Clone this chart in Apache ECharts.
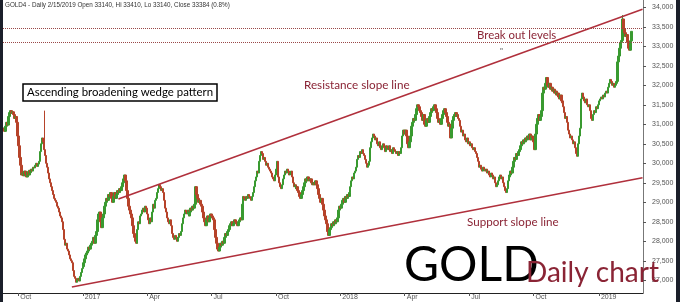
<!DOCTYPE html>
<html><head><meta charset="utf-8">
<script src="https://cdn.jsdelivr.net/npm/echarts@6/dist/echarts.min.js"></script>
<style>html,body{margin:0;padding:0;background:#fff;overflow:hidden}#c{width:680px;height:302px}</style>
</head><body><div id="c"></div>
<script>
// ---- data ----
const END_DATE = '2019-02-15';
const EXTRA_DAYS = 11; // empty future sessions so the trend lines run past the last candle
const closes = [
30900,30820,30950,31050,30980,31200,31300,31350,31280,31320,
31250,31150,31200,31050,30700,30450,30150,29950,29700,
29750,29680,29800,29720,29650,29780,29700,29820,29760,29850,29800,
29900,29880,29950,30000,29920,29980,30050,
30300,30500,30650,30550,
30350,30200,30000,29900,
29750,29600,29500,29400,29300,
29200,29100,29050,
29000,28900,28850,
28750,28650,28600,28500,
28300,28050,27900,
27950,27800,27750,
27650,27550,27500,27450,
27250,27100,
27050,26950,27000,
27050,26980,27100,
27200,27300,27350,
27450,27550,27650,27700,
27750,27850,27800,27900,27950,
28000,28100,27950,28150,28250,
28550,28700,28750,
28500,28350,28600,28700,
28900,29000,29100,29050,29200,29150,29250,
29100,29000,29150,29250,29100,29200,29300,
29250,29350,29300,29400,
29500,29600,29700,29550,
29300,29100,28900,28800,28700,28600,
28400,28200,28100,28000,27950,
28300,28500,28450,28650,28700,
28800,28850,28750,28900,28850,
28700,28550,28450,28600,28500,
28750,28950,28850,29050,29100,
29250,29350,29450,29400,29300,29350,29250,
29050,28850,28750,28600,
28500,28450,28550,28400,
28200,28100,28050,28150,28100,28000,28100,28200,28150,28250,
28450,28600,28700,28800,28750,
28700,28800,28650,28750,28850,28800,28900,28850,28950,
29400,
29200,29100,29000,29050,28950,28900,
28750,28600,28500,28400,28550,28650,28500,
28600,28700,28650,28600,28550,
28300,28100,27950,27800,27750,
27850,27950,27900,28000,27950,
28100,28200,28150,28250,28300,
28400,28450,28500,28400,28450,28550,28500,28450,28400,28500,28550,28600,28550,
28950,29150,29100,
29050,29150,29100,29200,29150,29100,29050,29150,29250,
29400,29550,29650,29800,29750,
30050,30200,30300,30250,30100,30150,
30050,29950,30000,29900,29850,29800,
29750,29650,29600,29550,29700,
29850,30050,
29650,29500,29400,29350,29450,
29600,29700,29800,29750,29850,29800,29700,29750,29800,29650,
29500,29400,29450,29350,29400,29300,29250,
29150,29100,29200,29300,29400,
29500,29600,29550,29650,29600,29550,29600,29500,29450,
29500,29450,29550,29450,29350,
29200,29100,29000,29100,28950,
28800,28650,28550,28450,
28250,28150,28300,28350,
28450,28400,28500,28450,28550,28500,28600,
28800,28900,28850,28950,29050,
29100,29000,29150,29100,29200,29150,29250,
29400,29550,29650,29600,29750,29800,29900,
30100,30200,30150,30300,30250,30350,30250,30200,
30100,30000,29900,29950,30050,
30400,30550,30650,30750,30700,30600,30650,
30500,30450,30550,30400,30350,30450,30500,30400,30300,30450,
30400,30350,30450,30300,30350,30250,30400,30350,30300,30250,30300,
30200,30300,30250,30400,
30700,30800,30850,30750,30850,30700,
30500,30400,30550,30700,
30950,31050,31150,31100,31250,
31400,31500,31450,31350,31300,
31200,31100,31250,31000,30950,31100,31150,31050,31200,
31300,31400,31350,31450,31500,31400,31300,
31150,31050,31100,31000,31150,
31250,31350,31400,31300,31200,
31050,30950,31000,
30650,
30900,31100,31200,31250,31300,31200,31250,31150,31100,
30950,30800,30850,30700,30750,
30600,30550,30650,30500,30550,30450,30500,30400,
30350,30400,30300,30250,30150,
30050,29900,29950,29850,29800,
29900,29850,29800,29850,29750,29800,
29700,29650,29750,29700,29600,29650,
29500,29400,29450,29550,
29650,29700,29600,29650,29500,
29400,29300,29250,29350,
29550,29650,29700,29800,29750,29900,
30050,30150,30100,30250,30200,30300,30350,
30450,30550,30500,30600,30550,30650,30600,
30700,30650,30750,30600,30700,30650,30550,30350,
30750,31000,31150,31250,31100,31200,31350,
31800,31950,31900,32050,32200,
32000,31950,32050,31900,31950,31850,31900,31800,31850,31750,31800,
31700,31650,31750,31600,31550,31450,
31300,31150,31200,31050,
30850,30750,30650,30700,
30600,30500,30550,30400,
30250,30180,
30500,30700,30900,
31650,31800,31700,
31600,31550,31650,31500,31450,31500,31350,
31150,31100,
31250,31350,31300,31450,31400,31500,
31600,31650,31700,31650,31750,31700,31800,31850,31800,
31950,32050,32150,32100,32000,
32050,31950,32000,32050,32100,
32600,32750,
32950,33100,33150,
33700,
33450,33350,33250,33300,
33100,32950,32900,
33140,33384
];
const wickHighs = { '2016-11-09': 31350, '2019-02-04': 33800 };
const yTicks = [27000,27500,28000,28500,29000,29500,30000,30500,31000,31500,32000,32500,33000,33500,34000];
const breakoutLevels = [33460, 33100];
const lastPrice = 33384;
const resistanceLine = [['2017-02-21', 29085], ['2019-03-04', 33950]];
const supportLine = [['2016-12-16', 26830], ['2019-03-04', 29630]];
const monthNames = ['Jan','Feb','Mar','Apr','May','Jun','Jul','Aug','Sep','Oct','Nov','Dec'];

// ---- build categories (trading weekdays) ----
function isoDay(d){ return d.toISOString().slice(0,10); }
function isWeekday(d){ const w = d.getUTCDay(); return w !== 0 && w !== 6; }
const back = []; { const d = new Date(END_DATE + 'T00:00:00Z');
  while (back.length < closes.length) { if (isWeekday(d)) back.push(isoDay(d)); d.setUTCDate(d.getUTCDate() - 1); } }
const dates = back.reverse();
{ const d = new Date(END_DATE + 'T00:00:00Z'); let k = 0;
  while (k < EXTRA_DAYS) { d.setUTCDate(d.getUTCDate() + 1); if (isWeekday(d)) { dates.push(isoDay(d)); k++; } } }

const candles = closes.map((c, i) => {
  const o = i === 0 ? c : closes[i - 1];
  const hi = Math.max(o, c, wickHighs[dates[i]] || 0);
  return [o, c, Math.min(o, c), hi];
});

function isQuarterStart(i) {
  if (i <= 0) return false;
  const m = +dates[i].slice(5, 7), pm = +dates[i - 1].slice(5, 7);
  return m !== pm && m % 3 === 1;
}
function fmt(v){ return v.toLocaleString('en-US'); }

const LINE = '#b0303c', TEXT_RED = '#8a2435';
const chart = echarts.init(document.getElementById('c'), null, { renderer: 'canvas' });
chart.setOption({
  animation: false,
  backgroundColor: '#ffffff',
  grid: { left: 3, right: 37, top: 0, bottom: 9, containLabel: false },
  xAxis: {
    type: 'category', data: dates, boundaryGap: true,
    axisLine: { show: true, lineStyle: { color: '#222', width: 1 } },
    axisTick: { show: true, interval: (i) => isQuarterStart(i), alignWithLabel: true, length: 3, lineStyle: { color: '#555' } },
    axisLabel: {
      show: true, interval: (i) => isQuarterStart(i), align: 'left', margin: 1, padding: [0, 0, 0, 2],
      fontSize: 7, color: '#555', fontFamily: 'Liberation Sans',
      formatter: (v) => { const m = +v.slice(5, 7); return m === 1 ? v.slice(0, 4) : monthNames[m - 1]; }
    },
    splitLine: { show: false }
  },
  yAxis: {
    type: 'value', position: 'right', min: 26674, max: 34187, scale: true,
    splitLine: { show: false },
    axisLine: { show: true, lineStyle: { color: '#777' } },
    axisTick: { show: true, customValues: yTicks, length: 3, lineStyle: { color: '#555' } },
    axisLabel: { show: true, customValues: yTicks, formatter: fmt, fontSize: 7, color: '#555', margin: 9, fontFamily: 'Liberation Sans' }
  },
  series: [{
    type: 'candlestick', data: candles, large: false, barWidth: 2,
    itemStyle: { color: '#399a30', color0: '#b6432a', borderColor: '#399a30', borderColor0: '#b6432a', borderWidth: 1 },
    markLine: {
      silent: true, symbol: ['none', 'none'], animation: false,
      label: { show: false },
      data: [
        [{ coord: resistanceLine[0], lineStyle: { color: LINE, width: 1.6, type: 'solid' } }, { coord: resistanceLine[1] }],
        [{ coord: supportLine[0], lineStyle: { color: LINE, width: 1.6, type: 'solid' } }, { coord: supportLine[1] }],
        ...breakoutLevels.map(v => ({ yAxis: v, lineStyle: { color: '#9a4848', width: 1, type: 'dotted' } })),
        { yAxis: lastPrice, lineStyle: { opacity: 0 },
          label: { show: true, position: 'end', distance: 2, formatter: fmt(lastPrice), backgroundColor: '#111', color: '#fff',
                   fontSize: 7, fontWeight: 'bold', padding: [1, 2, 1, 2], fontFamily: 'Liberation Sans' } }
      ]
    }
  }],
  graphic: [
    { type: 'rect', shape: { x: 0, y: 0, width: 3, height: 302 }, style: { fill: '#1b1f2a' }, z: 200 },
    { type: 'rect', shape: { x: 676, y: 0, width: 4, height: 302 }, style: { fill: '#1b1f2a' }, z: 200 },
    { type: 'text', x: 5, y: 5, z: 100, style: { text: 'GOLD4 - Daily 2/15/2019 Open 33140, Hi 33410, Lo 33140, Close 33384 (0.8%)', fontSize: 6.3, fill: '#333', fontFamily: 'Liberation Sans', verticalAlign: 'middle' } },
    { type: 'rect', z: 100, shape: { x: 23, y: 84, width: 194, height: 17 }, style: { fill: '#fff', stroke: '#000', lineWidth: 1.5 } },
    { type: 'text', x: 120, y: 92.5, z: 101, style: { text: 'Ascending broadening wedge pattern', fontSize: 11.4, fill: '#000', fontFamily: 'Lato', align: 'center', verticalAlign: 'middle' } },
    { type: 'text', x: 304, y: 85, z: 100, style: { text: 'Resistance slope line', fontSize: 11.7, fill: TEXT_RED, fontFamily: 'Lato', verticalAlign: 'middle' } },
    { type: 'text', x: 477, y: 35, z: 100, style: { text: 'Break out levels', fontSize: 11.4, fill: TEXT_RED, fontFamily: 'Lato', verticalAlign: 'middle' } },
    { type: 'text', x: 500, y: 51, z: 100, style: { text: '"', fontSize: 8, fill: '#444', fontFamily: 'Lato', verticalAlign: 'middle' } },
    { type: 'text', x: 467, y: 222, z: 100, style: { text: 'Support slope line', fontSize: 11.6, fill: TEXT_RED, fontFamily: 'Lato', verticalAlign: 'middle' } },
    { type: 'text', x: 404, y: 266, z: 100, style: { text: 'GOLD', fontSize: 48, fill: '#000', fontFamily: 'Lato', verticalAlign: 'middle' } },
    { type: 'text', x: 526, y: 273, z: 100, style: { text: 'Daily chart', fontSize: 28, fill: TEXT_RED, fontFamily: 'Lato', verticalAlign: 'middle' } }
  ]
});
</script></body></html>
